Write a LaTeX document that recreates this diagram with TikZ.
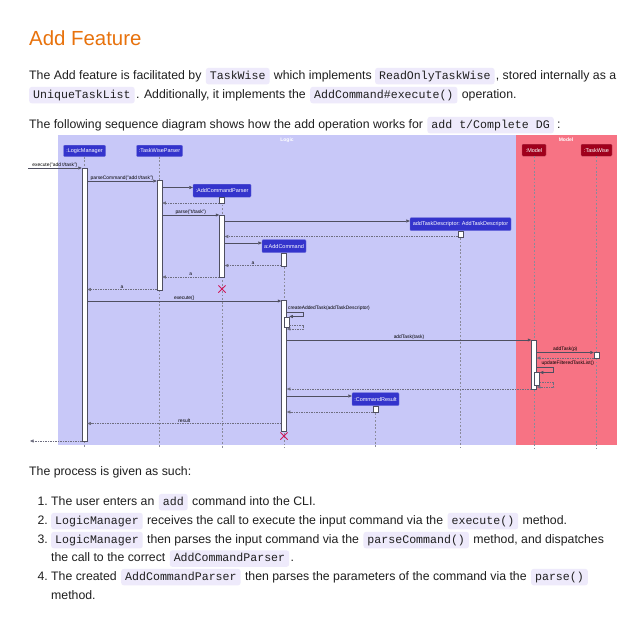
\documentclass[tikz,border=0pt]{standalone}
\usepackage{fontspec}
\setmainfont{Liberation Sans}
\setmonofont{Liberation Mono}
\usetikzlibrary{arrows.meta,shapes.misc}
\definecolor{headorange}{HTML}{E8720C}
\definecolor{bodytext}{HTML}{1F1F1F}
\definecolor{codebg}{HTML}{EEEAFB}
\definecolor{logicbg}{HTML}{C8C8F8}
\definecolor{modelbg}{HTML}{F77384}
\definecolor{partblue}{HTML}{3434CC}
\definecolor{partred}{HTML}{A0001C}
\definecolor{xcol}{HTML}{D0195A}
\definecolor{linegrey}{HTML}{4F4F60}
\definecolor{retgrey}{HTML}{6E6E80}
\definecolor{lifegrey}{HTML}{8A8A9A}
\newcommand\actbar[4]{\node[actbar, minimum height={#4-#3}, anchor=north] (#1) at (#2,#3) {};}
\begin{document}
\begin{tikzpicture}[x=1pt,y=-1pt,
  head/.style={font=\fontsize{20.4}{24}\selectfont, text=headorange, inner sep=0, anchor=base west},
  txt/.style={font=\fontsize{12.3}{15}\selectfont, text=bodytext, inner sep=0, anchor=base west},
  num/.style={txt, anchor=base east},
  cd/.style={font=\fontsize{11.6}{14}\ttfamily, text=bodytext, fill=codebg, rounded corners=2.5pt,
    inner xsep=4pt, inner ysep=2.5pt, text height=8.6pt, text depth=2.8pt, anchor=base west},
  part/.style={fill=partblue, draw=partblue!70!white, line width=0.3pt, text=white,
    font=\fontsize{5.5}{6}\selectfont, inner sep=0, rounded corners=1pt, anchor=north},
  mpart/.style={part, fill=partred, draw=partred!70!white},
  grptitle/.style={font=\fontsize{5}{6}\selectfont\bfseries, text=white, inner sep=0},
  life/.style={draw=lifegrey, line width=0.45pt, dash pattern=on 1.8pt off 1.8pt},
  actbar/.style={draw=linegrey, fill=white, line width=0.5pt, minimum width=5pt, inner sep=0},
  msg/.style={draw=linegrey, line width=0.55pt, -{Triangle[length=3.5pt,width=3pt]}},
  ret/.style={msg, draw=retgrey, dash pattern=on 1.6pt off 0.9pt},
  lbl/.style={font=\fontsize{4.9}{5}\selectfont, text=black, inner sep=0.7pt},
  destroy/.style={cross out, draw=xcol, line width=0.75pt, minimum size=6.5pt, inner sep=0}
]
\useasboundingbox[fill=white] (0,0) rectangle (640,637);

% ---------- heading and intro text ----------
\node[head] (h) at (29,45) {Add Feature};

\node[txt] (l1a) at (29,79) {The Add feature is facilitated by};
\node[cd]  (l1b) at ([xshift=4pt]l1a.base east) {TaskWise};
\node[txt] (l1c) at ([xshift=4pt]l1b.base east) {which implements};
\node[cd]  (l1d) at ([xshift=3pt]l1c.base east) {ReadOnlyTaskWise};
\node[txt] (l1e) at ([xshift=1pt]l1d.base east) {, stored internally as a};

\node[cd]  (l2a) at (29,98) {UniqueTaskList};
\node[txt] (l2b) at ([xshift=1pt]l2a.base east) {. Additionally, it implements the};
\node[cd]  (l2c) at ([xshift=4pt]l2b.base east) {AddCommand\#execute()};
\node[txt] (l2d) at ([xshift=4pt]l2c.base east) {operation.};

\node[txt] (l3a) at (29,128) {The following sequence diagram shows how the add operation works for};
\node[cd]  (l3b) at ([xshift=4pt]l3a.base east) {add t/Complete DG};
\node[txt] (l3c) at ([xshift=3pt]l3b.base east) {:};

% ---------- sequence diagram ----------
\fill[logicbg] (58,135) rectangle (516,445);
\fill[modelbg] (516,135) rectangle (617,445);
\node[grptitle] (logict) at (287,140) {Logic};
\node[grptitle] (modelt) at (566,139.5) {Model};

\node[part, minimum width=42pt, minimum height=11.5pt] (lm)  at (84.5,145) {:LogicManager};
\node[part, minimum width=46pt, minimum height=11.5pt] (twp) at (159.5,145) {:TaskWiseParser};
\node[part, minimum width=58pt, minimum height=13pt] (acp) at (222,184) {:AddCommandParser};
\node[part, minimum width=101pt, minimum height=13pt] (atd) at (460.5,217.5) {addTaskDescriptor: AddTaskDescriptor};
\node[part, minimum width=44pt, minimum height=13pt] (ac) at (284,239.5) {a:AddCommand};
\node[part, minimum width=47pt, minimum height=13pt] (cr) at (375.5,392.5) {:CommandResult};
\node[mpart, minimum width=24pt, minimum height=12pt] (mo) at (534,144) {:Model};
\node[mpart, minimum width=31pt, minimum height=12pt] (tw) at (596.5,144) {:TaskWise};

\foreach \p in {lm,twp,acp,atd,ac,cr,mo,tw}
  \draw[life] (\p.south) -- (\p.south |- 0,448);

% activation bars
\actbar{lmA}{84.5}{168}{441}
\actbar{twA}{159.5}{180}{290}
\actbar{acpA1}{222}{197}{203}
\actbar{acpA2}{222}{215}{277}
\actbar{atdA}{460.5}{230.5}{236.5}
\actbar{acA1}{284}{252.5}{265.5}
\actbar{acA2}{284}{300}{431}
\actbar{acA3}{286.5}{316.5}{327}
\actbar{mA}{534}{340}{389}
\actbar{mA2}{537}{372}{385}
\actbar{twsA}{596.5}{352}{358}
\actbar{crA}{375.5}{405.5}{412}

\coordinate (ext1) at (28,168);
\coordinate (ext2) at (30,441);

% messages
\draw[msg] (ext1) -- (lmA.west |- ext1) node[lbl,midway,above] {execute("add t/task")};
\draw[msg] (lmA.east |- 0,181) -- (twA.west |- 0,181) node[lbl,midway,above] {parseCommand("add t/task")};
\draw[msg] (twA.east |- 0,187.5) -- (acp.west |- 0,187.5);
\draw[ret] (acpA1.west |- 0,203) -- (twA.east |- 0,203);
\draw[msg] (twA.east |- 0,215) -- (acpA2.west |- 0,215) node[lbl,midway,above] {parse("t/task")};
\draw[msg] (acpA2.east |- 0,221) -- (atd.west |- 0,221);
\draw[ret] (atdA.west |- 0,236.5) -- (acpA2.east |- 0,236.5);
\draw[msg] (acpA2.east |- 0,243) -- (ac.west |- 0,243);
\draw[ret] (acA1.west |- 0,265.5) -- (acpA2.east |- 0,265.5) node[lbl,midway,above] {a};
\draw[ret] (acpA2.west |- 0,277) -- (twA.east |- 0,277) node[lbl,midway,above] {a};
\draw[ret] (twA.west |- 0,289.5) -- (lmA.east |- 0,289.5) node[lbl,midway,above] {a};
\node[destroy] (xacp) at (222,289) {};

\draw[msg] (lmA.east |- 0,301) -- (acA2.west |- 0,301) node[lbl,midway,above] {execute()};
\draw[msg] (acA2.east |- 0,312) -- ++(16.5,0) |- (acA3.east |- 0,316.5);
\node[lbl, anchor=south west] (cat) at ([xshift=0.5pt]acA2.east |- 0,311.5) {createAddedTask(addTaskDescriptor)};
\draw[ret] (acA3.east |- 0,325) -- ++(14,0) |- (acA2.east |- 0,329);

\draw[msg] (acA2.east |- 0,340) -- (mA.west |- 0,340) node[lbl,midway,above] {addTask(task)};
\draw[msg] (mA.east |- 0,352.5) -- (twsA.west |- 0,352.5) node[lbl,midway,above] {addTask(p)};
\draw[ret] (twsA.west |- 0,358) -- (mA.east |- 0,358);
\draw[msg] (mA.east |- 0,367) -- ++(17,0) |- (mA2.east |- 0,372.5);
\node[lbl, anchor=south west] (uft) at ([xshift=4pt]mA.east |- 0,366) {updateFilteredTaskList()};
\draw[ret] (mA2.east |- 0,382) -- ++(14,0) |- (mA.east |- 0,387);
\draw[ret] (mA.west |- 0,389) -- (acA2.east |- 0,389);

\draw[msg] (acA2.east |- 0,396) -- (cr.west |- 0,396);
\draw[ret] (crA.west |- 0,412) -- (acA2.east |- 0,412);
\draw[ret] (acA2.west |- 0,423.5) -- (lmA.east |- 0,423.5) node[lbl,midway,above] {result};
\node[destroy] (xac) at (284,436) {};
\draw[ret] (lmA.west |- ext2) -- (ext2);

% ---------- process list ----------
\node[txt] (p0) at (29,475) {The process is given as such:};

\node[num] (n1) at (48,505) {1.};
\node[txt] (i1a) at (51,505) {The user enters an};
\node[cd]  (i1b) at ([xshift=4pt]i1a.base east) {add};
\node[txt] (i1c) at ([xshift=4pt]i1b.base east) {command into the CLI.};

\node[num] (n2) at (48,524) {2.};
\node[cd]  (i2a) at (51,524) {LogicManager};
\node[txt] (i2b) at ([xshift=4pt]i2a.base east) {receives the call to execute the input command via the};
\node[cd]  (i2c) at ([xshift=4pt]i2b.base east) {execute()};
\node[txt] (i2d) at ([xshift=4pt]i2c.base east) {method.};

\node[num] (n3) at (48,543) {3.};
\node[cd]  (i3a) at (51,543) {LogicManager};
\node[txt] (i3b) at ([xshift=4pt]i3a.base east) {then parses the input command via the};
\node[cd]  (i3c) at ([xshift=4pt]i3b.base east) {parseCommand()};
\node[txt] (i3d) at ([xshift=4pt]i3c.base east) {method, and dispatches};
\node[txt] (i3e) at (51,561.5) {the call to the correct};
\node[cd]  (i3f) at ([xshift=4pt]i3e.base east) {AddCommandParser};
\node[txt] (i3g) at ([xshift=1pt]i3f.base east) {.};

\node[num] (n4) at (48,580) {4.};
\node[txt] (i4a) at (51,580) {The created};
\node[cd]  (i4b) at ([xshift=4pt]i4a.base east) {AddCommandParser};
\node[txt] (i4c) at ([xshift=4pt]i4b.base east) {then parses the parameters of the command via the};
\node[cd]  (i4d) at ([xshift=4pt]i4c.base east) {parse()};
\node[txt] (i4e) at (51,599) {method.};
\end{tikzpicture}
\end{document}
